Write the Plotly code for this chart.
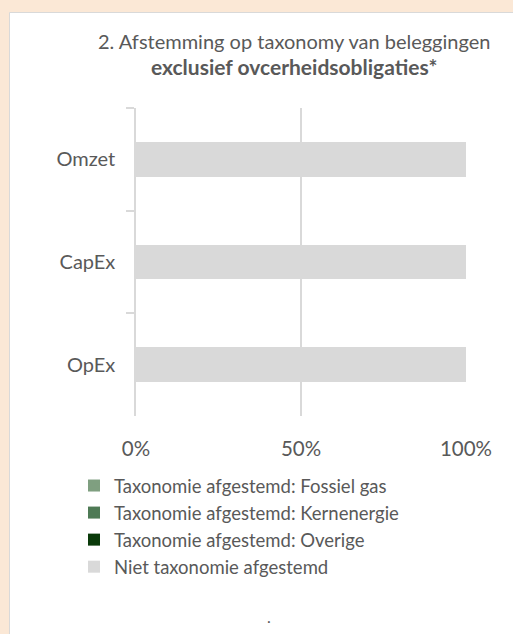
import plotly.graph_objects as go

categories = ["Omzet", "CapEx", "OpEx"]
series_names = [
    "Taxonomie afgestemd: Fossiel gas",
    "Taxonomie afgestemd: Kernenergie",
    "Taxonomie afgestemd: Overige",
    "Niet taxonomie afgestemd",
]
fossiel_gas = [0, 0, 0]
kernenergie = [0, 0, 0]
overige = [0, 0, 0]
niet_afgestemd = [100, 100, 100]
series_values = [fossiel_gas, kernenergie, overige, niet_afgestemd]
series_colors = ["#7F9F80", "#4E7A55", "#0A3A0A", "#D9D9D9"]
x_ticks = [0, 50, 100]
x_tick_labels = ["0%", "50%", "100%"]

W, H = 513, 634
L, R, T, B = 136, 466, 108, 416

FONT = "Lato"
GREY = "#595959"

fig = go.Figure()
for name, vals, col in zip(series_names, series_values, series_colors):
    fig.add_trace(go.Bar(
        y=categories, x=vals, name=name, orientation="h",
        marker=dict(color=col, line=dict(width=0)),
        legendgroup=name,
    ))

def px_x(p):
    return (p - L) / (R - L)

def px_y(p):
    return (B - p) / (B - T)

fig.update_layout(
    width=W, height=H,
    margin=dict(l=L, r=W - R, t=T, b=H - B),
    paper_bgcolor="#FBE8D6",
    plot_bgcolor="white",
    barmode="stack",
    bargap=0.66,
    font=dict(family=FONT, color=GREY),
    showlegend=True,
    legend=dict(
        x=px_x(74), y=px_y(467), xanchor="left", yanchor="top",
        bgcolor="rgba(0,0,0,0)",
        font=dict(size=18.5, color=GREY, family=FONT),
        traceorder="normal",
        tracegroupgap=0,
        itemwidth=30,
    ),
    shapes=[dict(
        type="rect", xref="paper", yref="paper",
        x0=px_x(9.5), x1=px_x(530), y0=px_y(650), y1=px_y(12.5),
        fillcolor="white", line=dict(color="#D9D9D9", width=1),
        layer="below",
    )],
    annotations=[
        dict(
            xref="paper", yref="paper", x=px_x(294), y=px_y(54),
            text="2. Afstemming op taxonomy van beleggingen<br><span style='font-size:21px'><b>exclusief ovcerheidsobligaties*</b></span>",
            showarrow=False, xanchor="center", yanchor="middle",
            font=dict(size=20, color=GREY, family=FONT), align="center",
        ),
        dict(
            xref="paper", yref="paper", x=px_x(269), y=px_y(616),
            text=".", showarrow=False, xanchor="center", yanchor="middle",
            font=dict(size=16, color=GREY, family=FONT),
        ),
    ],
)

fig.update_xaxes(
    range=[0, 100], tickvals=x_ticks, ticktext=x_tick_labels,
    showgrid=True, gridcolor="#D9D9D9", gridwidth=1.5,
    zeroline=False, showline=False, ticks="",
    tickfont=dict(size=20.5, color=GREY, family=FONT),
    ticklabelstandoff=18,
    fixedrange=True,
)
fig.update_yaxes(
    categoryorder="array", categoryarray=categories, autorange="reversed",
    showline=True, linecolor="#D9D9D9", linewidth=1.5,
    ticks="outside", tickson="boundaries", ticklen=8, tickcolor="#D9D9D9", tickwidth=1.5,
    showgrid=False, zeroline=False,
    tickfont=dict(size=20, color=GREY, family=FONT),
    ticklabelstandoff=15,
    fixedrange=True,
)

fig.write_html(
    "out.html",
    config={"displayModeBar": False},
    post_script="document.body.style.margin='0';document.body.style.background='#FBE8D6';",
)
